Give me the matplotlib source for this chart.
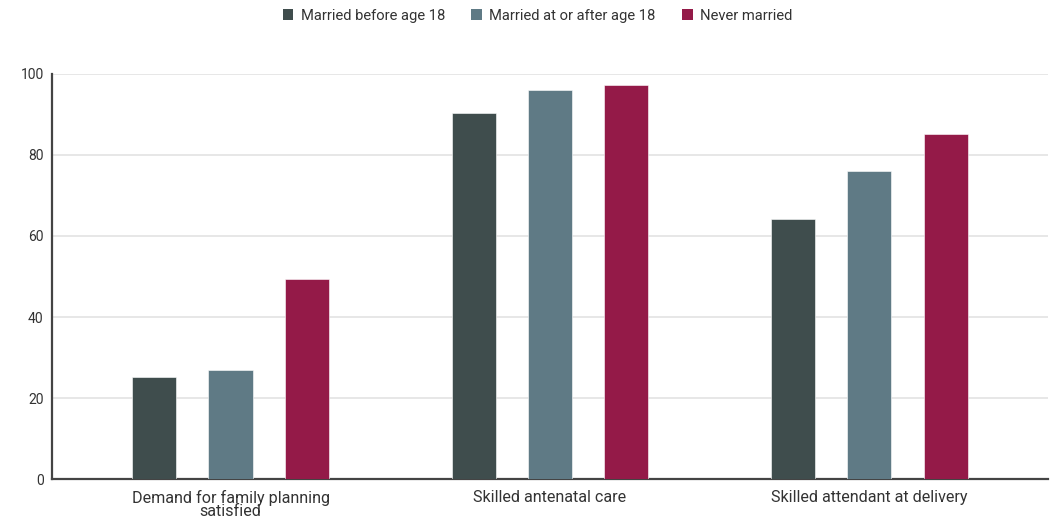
import matplotlib
matplotlib.use("Agg")
import matplotlib.pyplot as plt
import numpy as np
from matplotlib.patches import Patch

plt.rcParams['font.family'] = ['Roboto', 'DejaVu Sans']

categories = ["Demand for family planning\nsatisfied", "Skilled antenatal care", "Skilled attendant at delivery"]
series_names = ["Married before age 18", "Married at or after age 18", "Never married"]
married_before_18 = [25.3, 90.2, 64.2]
married_after_18 = [26.9, 96.0, 76.1]
never_married = [49.3, 97.3, 85.2]
colors = ["#3f4d4d", "#5f7a85", "#941a48"]
yticks = [0, 20, 40, 60, 80, 100]

fig = plt.figure(figsize=(10.5, 5.18), dpi=100)
ax = fig.add_axes([0.0495, 0.0747, 0.9485, 0.783])

x = np.arange(len(categories))
width = 0.138
offset = 0.239
for i, (vals, c) in enumerate(zip([married_before_18, married_after_18, never_married], colors)):
    ax.bar(x + (i - 1) * offset, vals, width, color=c, zorder=3,
           edgecolor="white", linewidth=0.4)

ax.set_xlim(-0.559, 2.559)
ax.set_ylim(0, 100)
ax.set_yticks(yticks)
ax.set_xticks(x)
ax.set_xticklabels(categories, fontsize=11.6, color="#333333", linespacing=0.78)
ax.tick_params(axis="y", length=0, labelsize=10, colors="#333333", pad=6)
ax.tick_params(axis="x", length=0, pad=8, colors="#333333")
ax.yaxis.grid(True, color="#e3e3e3", linewidth=1.2, zorder=0)
for s in ["top", "right"]:
    ax.spines[s].set_visible(False)
for s in ["left", "bottom"]:
    ax.spines[s].set_color("#444444")
    ax.spines[s].set_linewidth(1.6)

handles = [Patch(facecolor=c, edgecolor="none") for c in colors]
fig.legend(handles, series_names, loc="center", bbox_to_anchor=(0.512, 0.97),
           ncol=3, frameon=False, fontsize=10.6, handlelength=0.72, handleheight=0.72,
           handletextpad=0.5, columnspacing=1.8, labelcolor="#333333")

fig.savefig("out.png", dpi=100)
